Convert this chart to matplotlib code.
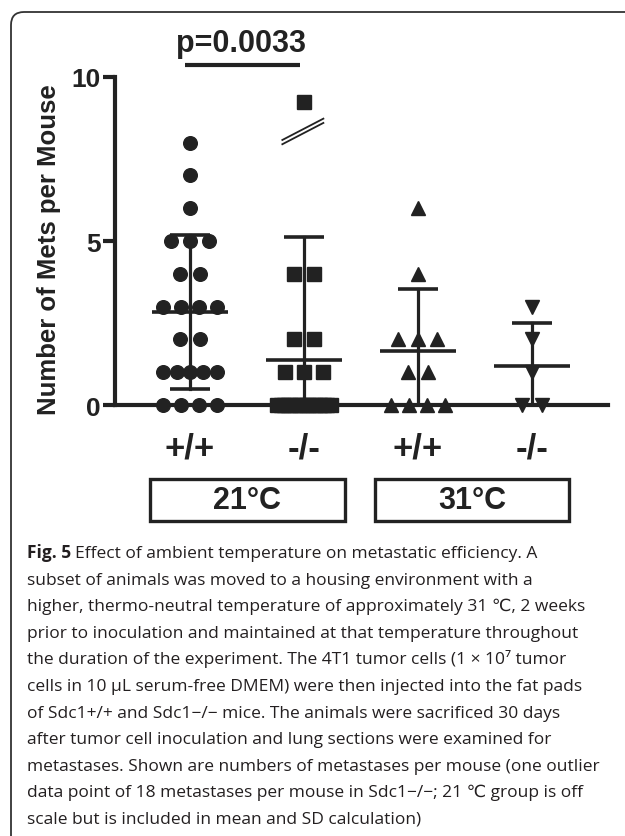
import numpy as np
import matplotlib.pyplot as plt
from matplotlib.patches import Rectangle, FancyBboxPatch
from matplotlib.transforms import IdentityTransform

# values (Sdc1 genotype, housing temperature)
genotypes = ['+/+', '-/-', '+/+', '-/-']
temperatures = ['21°C', '31°C']
wt_21 = [8, 7, 6, 5, 5, 5, 4, 4, 3, 3, 3, 3, 2, 2, 1, 1, 1, 1, 1, 0, 0, 0, 0]
ko_21 = [18, 4, 4, 2, 2, 1, 1, 1, 0, 0, 0, 0, 0, 0, 0, 0, 0, 0, 0, 0, 0, 0, 0, 0]
wt_31 = [6, 4, 2, 2, 2, 1, 1, 0, 0, 0, 0]
ko_31 = [3, 2, 1, 0, 0]
groups = [wt_21, ko_21, wt_31, ko_31]
markers = ['o', 's', '^', 'v']
p_value = 'p=0.0033'

caption = [
    'subset of animals was moved to a housing environment with a',
    'higher, thermo-neutral temperature of approximately 31 \u2103, 2 weeks',
    'prior to inoculation and maintained at that temperature throughout',
    'the duration of the experiment. The 4T1 tumor cells (1 \u00d7 10\u2077 tumor',
    'cells in 10 \u03bcL serum-free DMEM) were then injected into the fat pads',
    'of Sdc1+/+ and Sdc1\u2212/\u2212 mice. The animals were sacrificed 30 days',
    'after tumor cell inoculation and lung sections were examined for',
    'metastases. Shown are numbers of metastases per mouse (one outlier',
    'data point of 18 metastases per mouse in Sdc1\u2212/\u2212; 21 \u2103 group is off',
    'scale but is included in mean and SD calculation)',
]

ink = '#222222'
plt.rcParams['font.family'] = ['Liberation Sans', 'DejaVu Sans']

W, H = 625, 837
fig = plt.figure(figsize=(W / 100, H / 100), dpi=100)
ax = fig.add_axes([115 / W, 1 - 406 / H, (608 - 115) / W, (406 - 78) / H])

def spread(n, gap=0.171, span=0.47):
    # column scatter offsets like GraphPad
    if n == 1:
        return np.zeros(1)
    step = min(gap, span / (n - 1))
    return (np.arange(n) - (n - 1) / 2) * step

for i, (vals, mk) in enumerate(zip(groups, markers)):
    x0 = i + 1
    vals = np.array(vals, dtype=float)
    for v in np.unique(vals):
        n = int(np.sum(vals == v))
        shown = 9.25 if v > 10 else v   # off-scale point drawn above the break
        xs = x0 + spread(n)
        ax.plot(xs, np.full(n, shown), ls='none', marker=mk, ms=9.8,
                color=ink, mec=ink, clip_on=False, zorder=3)
    m = vals.mean()
    s = vals.std(ddof=1)
    ax.plot([x0 - 0.333, x0 + 0.333], [m, m], color=ink, lw=2.6,
            solid_capstyle='butt', zorder=4)
    ax.plot([x0, x0], [max(m - s, 0), m + s], color=ink, lw=2.3, zorder=4)
    for e in (m - s, m + s):
        if 0 < e < 10:
            ax.plot([x0 - 0.175, x0 + 0.175], [e, e], color=ink, lw=2.6,
                    solid_capstyle='butt', zorder=4)

# axis break marks for the outlier
for dy in (0, 0.13):
    ax.plot([1.81, 2.17], [7.95 + dy, 8.6 + dy], color=ink, lw=1.3, clip_on=False)

ax.set_xlim(0.342, 4.667)
ax.set_ylim(0, 10)
for side in ('top', 'right'):
    ax.spines[side].set_visible(False)
for side in ('left', 'bottom'):
    ax.spines[side].set_linewidth(3)
    ax.spines[side].set_color(ink)
ax.set_yticks([0, 5, 10])
ax.tick_params(axis='y', length=9, width=3, color=ink, labelsize=19, pad=1,
               labelcolor=ink)
ax.set_xticks([1, 2, 3, 4], genotypes)
ax.tick_params(axis='x', length=0, labelsize=25, pad=19, labelcolor=ink)
for lab in ax.get_xticklabels() + ax.get_yticklabels():
    lab.set_fontweight('bold')

fig.text(49 / W, 1 - 250 / H, 'Number of Mets per Mouse', rotation=90,
         ha='center', va='center', fontsize=18.5, fontweight='bold', color=ink)

# significance bar
ax.text(1.45, 11.05, p_value, ha='center', va='center', fontsize=22,
        fontweight='bold', color=ink, clip_on=False)
ax.plot([0.956, 1.965], [10.37, 10.37], color=ink, lw=3, clip_on=False,
        solid_capstyle='butt')

# temperature boxes
for j, lab in enumerate(temperatures):
    left = 0.649 + 2 * j * 0.985
    ax.add_patch(Rectangle((left, -3.54), 1.71, 1.28, fill=False, ec=ink,
                           lw=2.4, clip_on=False))
    ax.text(left + 0.855, -2.9, lab, ha='center', va='center', fontsize=22,
            fontweight='bold', color=ink, clip_on=False)

# figure frame
fig.add_artist(FancyBboxPatch((11, -30), 700, 824 + 30, transform=IdentityTransform(),
                              boxstyle='round,pad=0,rounding_size=13',
                              fill=False, ec='#333333', lw=1.3))

# caption
cap_font = ['Open Sans', 'DejaVu Sans']
cap_size = 12.5
x_cap = 27
base0 = 558
step = 26.6
r = fig.canvas.get_renderer()
t = fig.text(x_cap / W, 1 - base0 / H, 'Fig. 5', fontsize=cap_size, fontweight='bold',
             family=cap_font, va='baseline', color='#231f20')
bb = t.get_window_extent(r)
fig.text((bb.x1 + 4) / W, 1 - base0 / H,
         'Effect of ambient temperature on metastatic efficiency. A',
         fontsize=cap_size, family=cap_font, va='baseline', color='#231f20')
for k, line in enumerate(caption):
    fig.text(x_cap / W, 1 - (base0 + step * (k + 1)) / H, line, fontsize=cap_size,
             family=cap_font, va='baseline', color='#231f20')

fig.savefig('out.png', dpi=100)
